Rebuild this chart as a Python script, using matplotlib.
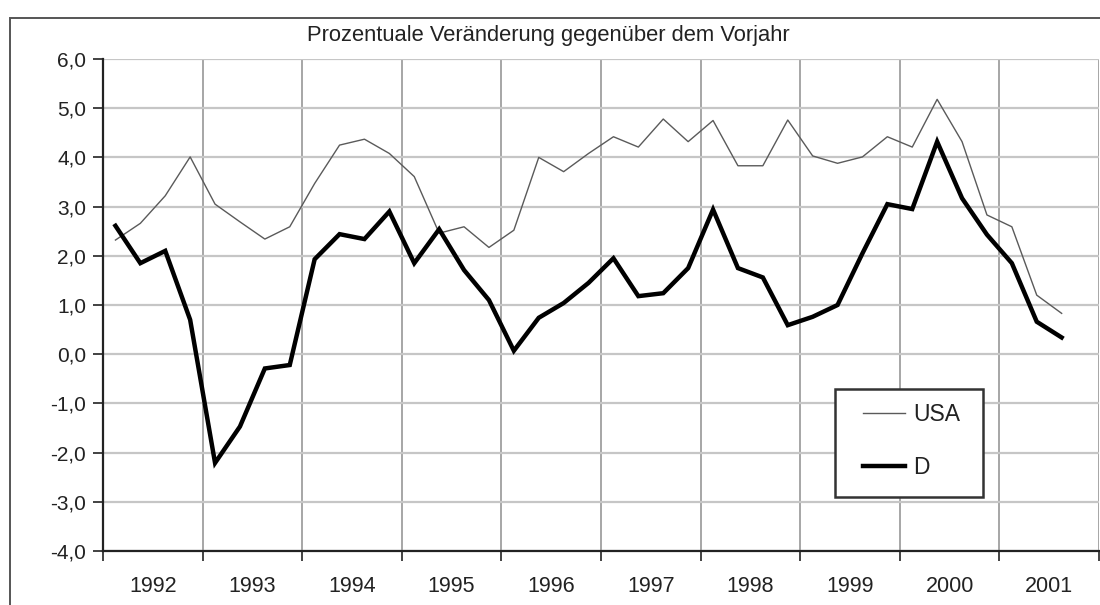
import matplotlib
matplotlib.use("Agg")
import matplotlib.pyplot as plt
from matplotlib.patches import Rectangle
from matplotlib.ticker import FixedLocator, FuncFormatter, NullFormatter

plt.rcParams["font.family"] = ["Liberation Sans", "DejaVu Sans"]

# Quartalswerte, 1992 Q1 bis 2001 Q3
years = ["1992", "1993", "1994", "1995", "1996", "1997", "1998", "1999", "2000", "2001"]

usa = [2.32, 2.66, 3.22, 4.01, 3.05, 2.69, 2.34, 2.59,
       3.47, 4.25, 4.37, 4.08, 3.61, 2.46, 2.59, 2.17,
       2.52, 4.00, 3.71, 4.08, 4.42, 4.21, 4.78, 4.32,
       4.75, 3.83, 3.83, 4.76, 4.03, 3.88, 4.01, 4.42,
       4.21, 5.18, 4.32, 2.83, 2.59, 1.20, 0.83]

d = [2.61, 1.85, 2.10, 0.70, -2.21, -1.47, -0.29, -0.22,
     1.93, 2.44, 2.34, 2.90, 1.85, 2.54, 1.71, 1.10,
     0.07, 0.74, 1.04, 1.45, 1.95, 1.18, 1.24, 1.75,
     2.94, 1.75, 1.56, 0.59, 0.76, 1.00, 2.05, 3.05,
     2.95, 4.32, 3.17, 2.43, 1.85, 0.66, 0.34]

title = "Prozentuale Veränderung gegenüber dem Vorjahr"

W, H = 1100, 605
fig = plt.figure(figsize=(W / 100, H / 100), dpi=100)
ax = fig.add_axes([103 / W, 1 - 551 / H, 996 / W, 492 / H])

x = list(range(len(usa)))
ax.plot(x, usa, color="#5a5a5a", lw=1.0, label="USA", zorder=3)
ax.plot(x, d, color="black", lw=3.2, label="D", zorder=4, solid_joinstyle="miter")

n_q = 4 * len(years)
ax.set_xlim(-0.5, n_q - 0.5)
ax.set_ylim(-4, 6)

ax.xaxis.set_major_locator(FixedLocator([4 * i - 0.5 for i in range(len(years) + 1)]))
ax.xaxis.set_major_formatter(NullFormatter())
ax.xaxis.set_minor_locator(FixedLocator([4 * i + 1.5 for i in range(len(years))]))
ax.set_xticklabels(years, minor=True)
ax.tick_params(axis="x", which="major", direction="out", length=7, width=1.2, color="#222")
ax.tick_params(axis="x", which="minor", length=0, pad=18, labelsize=15.5, labelcolor="#222")

ax.set_yticks(range(-4, 7))
ax.yaxis.set_major_formatter(FuncFormatter(lambda v, p: f"{v:.1f}".replace(".", ",")))
ax.tick_params(axis="y", direction="out", length=7, width=1.2, color="#222",
               pad=5, labelsize=15, labelcolor="#222")

ax.yaxis.grid(True, color="#c6c6c6", lw=1.6)
ax.xaxis.grid(True, which="major", color="#8e8e8e", lw=1.1)
ax.set_axisbelow(True)

for s in ["top", "right"]:
    ax.spines[s].set_visible(False)
for s in ["left", "bottom"]:
    ax.spines[s].set_color("#222")
    ax.spines[s].set_linewidth(1.6)
    ax.spines[s].set_zorder(5)

fig.text(548 / W, 1 - 36 / H, title, ha="center", va="center", fontsize=15.8, color="#222")

# Legendenrahmen wie im Original, Einträge ohne eigenen Rahmen
ax.add_patch(Rectangle((835 / W, 1 - 497 / H), 148 / W, 108 / H, transform=fig.transFigure,
                       facecolor="white", edgecolor="#333", lw=1.8, zorder=6, clip_on=False))
leg = ax.legend(loc="center left", bbox_to_anchor=(863 / W, 1 - 441 / H),
                bbox_transform=fig.transFigure, fontsize=16.5, frameon=False,
                handlelength=1.85, handletextpad=0.35, labelspacing=1.35,
                borderpad=0, borderaxespad=0)
leg.set_zorder(7)
for t in leg.get_texts():
    t.set_color("#222")

fig.add_artist(Rectangle((10 / W, -0.1), 1.2, 1.1 - 18 / H, transform=fig.transFigure,
                         fill=False, edgecolor="#555", lw=1.4))

fig.savefig("out.png", dpi=100)
